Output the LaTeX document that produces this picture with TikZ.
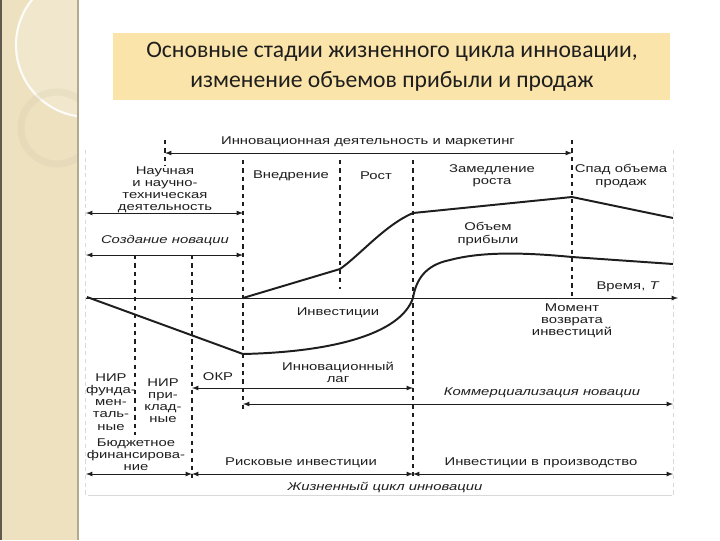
\documentclass[tikz,border=0pt]{standalone}
\usepackage{fontspec}
\setmainfont{Liberation Sans}
\newfontfamily\titlefont{Carlito}
\newfontfamily\diagfont[FakeStretch=1.32]{Liberation Sans}
\usetikzlibrary{arrows, calc, positioning}
\definecolor{panel}{HTML}{EEE1C0}
\definecolor{titlebg}{HTML}{FBE4A9}
\definecolor{ink}{HTML}{1E1E1E}

\tikzset{
  lbl/.style={font=\diagfont\fontsize{8}{8.6}\selectfont, align=center, inner sep=0pt, text=ink},
  ilbl/.style={lbl, font=\diagfont\itshape\fontsize{8}{8.6}\selectfont},
  divline/.style={dash pattern=on 3pt off 3pt, line width=0.9pt, draw=ink},
  faintline/.style={dash pattern=on 3pt off 2.5pt, line width=0.6pt, draw=black!15},
  span/.style={<->, line width=0.6pt, draw=ink},
  curve/.style={line width=1.4pt, draw=ink}
}

\begin{document}
\begin{tikzpicture}[x=0.025cm, y=-0.025cm, >=latex]
    \useasboundingbox (0,0) rectangle (720,540);

    % left panel of the slide
    \fill[panel] (0,0) rectangle (78,540);
    \begin{scope}
        \clip (0,0) rectangle (78,540);
        \fill[white, opacity=0.2] (88,45) circle (72);
        \draw[white, opacity=0.9, line width=1.5pt] (88,45) circle (72);
        \draw[panel!85!black, opacity=0.2, line width=5pt] (57,128) circle (36);
    \end{scope}
    \fill[panel!40!black] (0,0) rectangle (2,540);
    \draw[panel!75!black, line width=0.8pt] (78,0) -- (78,540);

    % title
    \fill[titlebg] (113,33) rectangle (670,100);
    \node[font=\titlefont\fontsize{16.8}{21.5}\selectfont, align=center, text=ink] (title) at (392,67)
        {Основные стадии жизненного цикла инновации,\\изменение объемов прибыли и продаж};

    % frame of the diagram
    \draw[faintline] (85,150) -- (85,497);
    \draw[faintline] (673,150) -- (673,497);
    \draw[black!15, line width=0.6pt] (88,495) -- (672,495);

    % stage borders
    \draw[divline] (165,140) -- (165,166);
    \draw[divline] (135,255) -- (135,435);
    \draw[divline] (192,255) -- (192,478);
    \draw[divline] (243,160) -- (243,413);
    \draw[divline] (340,160) -- (340,289);
    \draw[divline] (413,160) -- (413,480);
    \draw[divline] (572,140) -- (572,300);

    % spans
    \coordinate (mk-l) at (165,153);
    \coordinate (mk-r) at (572,153);
    \draw[span] (mk-l) -- (mk-r);
    \node[lbl] (market) at (368,142) {Инновационная деятельность и маркетинг};

    \coordinate (nd-l) at (86,213);
    \coordinate (nd-r) at (243,213);
    \draw[span] (nd-l) -- (nd-r);
    \node[lbl] (science) at (165,190) {Научная\\и научно-\\техническая\\деятельность};

    \coordinate (cn-l) at (86,255);
    \coordinate (cn-r) at (243,255);
    \draw[span] (cn-l) -- (cn-r);
    \node[ilbl] (create) at (165,241) {Создание новации};

    \coordinate (t-0) at (86,298);
    \coordinate (t-1) at (678,298);
    \draw[->, line width=0.6pt, ink] (t-0) -- (t-1);
    \node[lbl] (time) at (628,287) {Время, \textit{T}};

    \coordinate (lag-l) at (192,388);
    \coordinate (lag-r) at (413,388);
    \draw[span] (lag-l) -- (lag-r);
    \node[lbl] (lag) at (338,372) {Инновационный\\лаг};

    \coordinate (com-l) at (243,404);
    \coordinate (com-r) at (673,404);
    \draw[span] (com-l) -- (com-r);
    \node[ilbl] (comm) at (542,393) {Коммерциализация новации};

    \coordinate (b-0) at (86,474);
    \coordinate (b-1) at (192,474);
    \coordinate (b-2) at (413,474);
    \coordinate (b-3) at (673,474);
    \draw[span] (b-0) -- (b-1);
    \draw[span] (b-1) -- (b-2);
    \draw[span] (b-2) -- (b-3);
    \node[lbl] (budget) at (136,455) {Бюджетное\\финансирова-\\ние};
    \node[lbl] (risk) at (301,463) {Рисковые инвестиции};
    \node[lbl] (prod) at (541,463) {Инвестиции в производство};
    \node[ilbl] (cycle) at (385,487) {Жизненный цикл инновации};

    % stage names
    \node[lbl] (intro) at (291,176) {Внедрение};
    \node[lbl] (growth) at (376,176) {Рост};
    \node[lbl] (slow) at (492,176) {Замедление\\роста};
    \node[lbl] (decline) at (621,176) {Спад объема\\продаж};
    \node[lbl] (profit) at (488,234) {Объем\\прибыли};
    \node[lbl] (invest) at (338,313) {Инвестиции};
    \node[lbl] (payback) at (572,321) {Момент\\возврата\\инвестиций};
    \node[lbl] (fund) at (111,402) {НИР\\фунда-\\мен-\\таль-\\ные};
    \node[lbl] (appl) at (163,401) {НИР\\при-\\клад-\\ные};
    \node[lbl] (okr) at (218,377) {ОКР};

    % sales volume
    \draw[curve] (243,298) -- (340,269) .. controls (360,255) and (385,225) .. (413,213) -- (572,197) -- (673,218);

    % investments and profit
    \draw[curve] (87,297) -- (243,354) .. controls (330,352) and (400,335) .. (413,298)
        .. controls (416,280) and (425,265) .. (450,260) .. controls (480,252) and (520,252) .. (572,257) -- (673,264);
\end{tikzpicture}
\end{document}
